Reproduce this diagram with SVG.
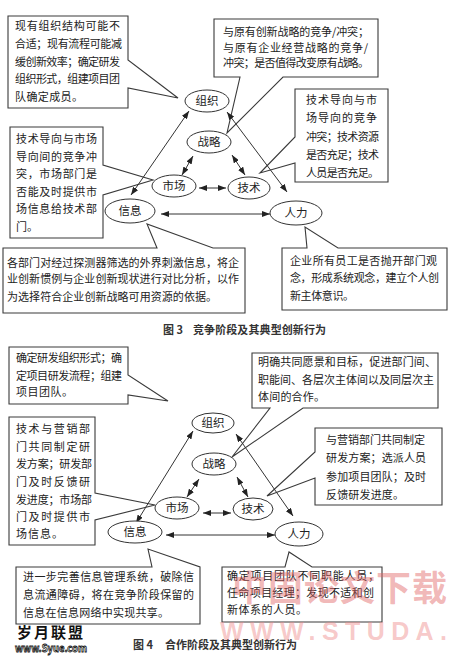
<svg xmlns="http://www.w3.org/2000/svg" width="450" height="658" viewBox="0 0 450 658">
<style>
.co path{fill:#fff;stroke:#3a3a3a;stroke-width:1.1;stroke-linejoin:miter}
.t{font-family:"Noto Sans CJK SC","Noto Sans CJK TC",sans-serif;font-size:11px;fill:#222}
.node ellipse{fill:#fff;stroke:#333;stroke-width:1}
.node text{font-family:"Noto Sans CJK SC",sans-serif;font-size:11.5px;fill:#222;text-anchor:middle}
#connectors line{stroke:#333;stroke-width:1;marker-start:url(#ah);marker-end:url(#ah)}
.cap{font-family:"Noto Sans CJK SC",sans-serif;font-size:11px;font-weight:bold;fill:#333}
.wm{font-family:"Noto Sans CJK SC",sans-serif;font-weight:bold}
</style>
<defs>
<marker id="ah" viewBox="0 0 8 6" refX="8" refY="3" markerWidth="8" markerHeight="6" markerUnits="userSpaceOnUse" orient="auto-start-reverse">
<path d="M0,0 L8,3 L0,6 z" fill="#222"/>
</marker>
</defs>
<rect width="450" height="658" fill="#fff"/>

<!-- Figure 3 callouts -->
<g id="c3-org" class="co">
<path d="M8,16 H128 V60 L178,98 L128,88 V108 H8 Z"/>
<text class="t" x="15" y="30" textLength="105" lengthAdjust="spacing">现有组织结构可能不</text>
<text class="t" x="15" y="48" textLength="107" lengthAdjust="spacing">合适；现有流程可能减</text>
<text class="t" x="15" y="66" textLength="105" lengthAdjust="spacing">缓创新效率；确定研发</text>
<text class="t" x="15" y="83" textLength="105" lengthAdjust="spacing">组织形式，组建项目团</text>
<text class="t" x="15" y="101" textLength="68" lengthAdjust="spacing">队确定成员。</text>
</g>
<g id="c3-str" class="co">
<path d="M214,19 H378 V77 H283 L227,133 L240,77 H214 Z"/>
<text class="t" x="223" y="36" textLength="146" lengthAdjust="spacing">与原有创新战略的竞争/冲突；</text>
<text class="t" x="223" y="52" textLength="145" lengthAdjust="spacing">与原有企业经营战略的竞争/</text>
<text class="t" x="223" y="67" textLength="146" lengthAdjust="spacing">冲突；是否值得改变原有战略。</text>
</g>
<g id="c3-tech" class="co">
<path d="M295,89 H388 V182 H295 V163 L260,173 L295,137 Z"/>
<text class="t" x="306" y="104" textLength="71" lengthAdjust="spacing">技术导向与市</text>
<text class="t" x="306" y="122" textLength="71" lengthAdjust="spacing">场导向的竞争</text>
<text class="t" x="306" y="141" textLength="73" lengthAdjust="spacing">冲突；技术资源</text>
<text class="t" x="306" y="159" textLength="73" lengthAdjust="spacing">是否充足；技术</text>
<text class="t" x="306" y="177" textLength="73" lengthAdjust="spacing">人员是否充足。</text>
</g>
<g id="c3-mkt" class="co">
<path d="M10,127 H103 V165 L153,180 L103,195 V238 H10 Z"/>
<text class="t" x="16" y="143" textLength="81" lengthAdjust="spacing">技术导向与市场</text>
<text class="t" x="16" y="161" textLength="81" lengthAdjust="spacing">导向间的竞争冲</text>
<text class="t" x="16" y="178" textLength="81" lengthAdjust="spacing">突，市场部门是</text>
<text class="t" x="16" y="196" textLength="81" lengthAdjust="spacing">否能及时提供市</text>
<text class="t" x="16" y="213" textLength="81" lengthAdjust="spacing">场信息给技术部</text>
<text class="t" x="16" y="231">门。</text>
</g>
<g id="c3-info" class="co">
<path d="M3,248 H157 L147,224 L213,248 H245 V313 H3 Z"/>
<text class="t" x="7" y="267" textLength="232" lengthAdjust="spacing">各部门对经过探测器筛选的外界刺激信息，将企</text>
<text class="t" x="7" y="283" textLength="232" lengthAdjust="spacing">业创新惯例与企业创新现状进行对比分析，以作</text>
<text class="t" x="7" y="301" textLength="210" lengthAdjust="spacing">为选择符合企业创新战略可用资源的依据。</text>
</g>
<g id="c3-hr" class="co">
<path d="M282,248 H307 L305,227 L338,248 H447 V310 H282 Z"/>
<text class="t" x="290" y="265" textLength="147" lengthAdjust="spacing">企业所有员工是否抛开部门观</text>
<text class="t" x="290" y="282" textLength="149" lengthAdjust="spacing">念，形成系统观念，建立个人创</text>
<text class="t" x="290" y="300" textLength="64" lengthAdjust="spacing">新主体意识。</text>
</g>

<!-- Figure 4 callouts -->
<g id="c4-org" class="co">
<path d="M9,347 H128 V375 L168,401 L128,395 V404 H9 Z"/>
<text class="t" x="16" y="362" textLength="106" lengthAdjust="spacing">确定研发组织形式；确</text>
<text class="t" x="16" y="380" textLength="106" lengthAdjust="spacing">定项目研发流程；组建</text>
<text class="t" x="16" y="396" textLength="57" lengthAdjust="spacing">项目团队。</text>
</g>
<g id="c4-str" class="co">
<path d="M252,353 H438 V408 H303 L232,457 L270,408 H252 Z"/>
<text class="t" x="258" y="366" textLength="178" lengthAdjust="spacing">明确共同愿景和目标，促进部门间、</text>
<text class="t" x="258" y="384" textLength="176" lengthAdjust="spacing">职能间、各层次主体间以及同层次主</text>
<text class="t" x="258" y="401" textLength="67" lengthAdjust="spacing">体间的合作。</text>
</g>
<g id="c4-tech" class="co">
<path d="M315,428 H442 V505 H315 V478 L267,496 L315,452 Z"/>
<text class="t" x="326" y="444" textLength="99" lengthAdjust="spacing">与营销部门共同制定</text>
<text class="t" x="326" y="462" textLength="100" lengthAdjust="spacing">研发方案；选派人员</text>
<text class="t" x="326" y="481" textLength="100" lengthAdjust="spacing">参加项目团队；及时</text>
<text class="t" x="326" y="499" textLength="78" lengthAdjust="spacing">反馈研发进度。</text>
</g>
<g id="c4-mkt" class="co">
<path d="M9,417 H95 V493 L155,505 L95,520 V545 H9 Z"/>
<text class="t" x="16" y="433" textLength="74" lengthAdjust="spacing">技术与营销部</text>
<text class="t" x="16" y="451" textLength="74" lengthAdjust="spacing">门共同制定研</text>
<text class="t" x="16" y="468" textLength="76" lengthAdjust="spacing">发方案；研发部</text>
<text class="t" x="16" y="486" textLength="74" lengthAdjust="spacing">门及时反馈研</text>
<text class="t" x="16" y="504" textLength="76" lengthAdjust="spacing">发进度；市场部</text>
<text class="t" x="16" y="521" textLength="74" lengthAdjust="spacing">门及时提供市</text>
<text class="t" x="16" y="538" textLength="47" lengthAdjust="spacing">场信息。</text>
</g>
<g id="c4-info" class="co">
<path d="M16,567 H152 L148,549 L200,567 V624 H16 Z"/>
<text class="t" x="23" y="581" textLength="171" lengthAdjust="spacing">进一步完善信息管理系统，破除信</text>
<text class="t" x="23" y="599" textLength="171" lengthAdjust="spacing">息流通障碍，将在竞争阶段保留的</text>
<text class="t" x="23" y="617" textLength="146" lengthAdjust="spacing">信息在信息网络中实现共享。</text>
</g>
<g id="c4-hr" class="co">
<path d="M222,567 H285 L289,552 L312,567 H382 V622 H222 Z"/>
<text class="t" x="227" y="580" textLength="152" lengthAdjust="spacing">确定项目团队不同职能人员；</text>
<text class="t" x="227" y="597" textLength="147" lengthAdjust="spacing">任命项目经理；发现不适和创</text>
<text class="t" x="227" y="614" textLength="80" lengthAdjust="spacing">新体系的人员。</text>
</g>

<!-- connectors -->
<g id="connectors">
<line x1="131" y1="195" x2="189" y2="111"/>
<line x1="227" y1="112" x2="287" y2="192"/>
<line x1="193" y1="156" x2="182" y2="175"/>
<line x1="232" y1="155" x2="245" y2="175"/>
<line x1="199" y1="188" x2="226" y2="188"/>
<line x1="161" y1="214" x2="270" y2="214"/>
<line x1="136" y1="523" x2="193" y2="431"/>
<line x1="236" y1="434" x2="293" y2="516"/>
<line x1="199" y1="479" x2="187" y2="497"/>
<line x1="237" y1="477" x2="248" y2="497"/>
<line x1="203" y1="513" x2="231" y2="513"/>
<line x1="166" y1="535" x2="275" y2="535"/>
</g>

<!-- Figure 3 nodes -->
<g id="n3-org" class="node"><ellipse cx="207" cy="101" rx="22" ry="11"/><text x="207" y="105">组织</text></g>
<g id="n3-str" class="node"><ellipse cx="209" cy="142" rx="22" ry="11"/><text x="209" y="146">战略</text></g>
<g id="n3-mkt" class="node"><ellipse cx="174" cy="186" rx="22" ry="11"/><text x="174" y="190">市场</text></g>
<g id="n3-tech" class="node"><ellipse cx="249" cy="188" rx="21" ry="11"/><text x="249" y="192">技术</text></g>
<g id="n3-info" class="node"><ellipse cx="130" cy="211" rx="25" ry="12"/><text x="130" y="215">信息</text></g>
<g id="n3-hr" class="node"><ellipse cx="296" cy="213" rx="26" ry="12"/><text x="296" y="217">人力</text></g>

<!-- Figure 4 nodes -->
<g id="n4-org" class="node"><ellipse cx="213" cy="423" rx="21" ry="10"/><text x="213" y="427">组织</text></g>
<g id="n4-str" class="node"><ellipse cx="214" cy="464" rx="22" ry="11"/><text x="214" y="468">战略</text></g>
<g id="n4-mkt" class="node"><ellipse cx="177" cy="508" rx="22" ry="11"/><text x="177" y="512">市场</text></g>
<g id="n4-tech" class="node"><ellipse cx="253" cy="509" rx="20" ry="11"/><text x="253" y="513">技术</text></g>
<g id="n4-info" class="node"><ellipse cx="135" cy="532" rx="27" ry="11"/><text x="135" y="536">信息</text></g>
<g id="n4-hr" class="node"><ellipse cx="299" cy="534" rx="24" ry="12"/><text x="299" y="538">人力</text></g>

<!-- captions -->
<text class="cap" x="163" y="334">图 3</text>
<text class="cap" x="193" y="334" textLength="133" lengthAdjust="spacing">竞争阶段及其典型创新行为</text>
<text class="cap" x="133" y="649">图 4</text>
<text class="cap" x="165" y="649" textLength="132" lengthAdjust="spacing">合作阶段及其典型创新行为</text>

<!-- watermarks -->
<text class="wm" x="17" y="638" font-size="15" fill="#111" textLength="66" lengthAdjust="spacing">岁月联盟</text>
<text class="wm" x="15" y="652" font-size="10.5" fill="#fff" stroke="#111" stroke-width="0.8" font-family="DejaVu Sans" textLength="72" lengthAdjust="spacingAndGlyphs">www.Syue.com</text>
<text class="wm" x="232" y="601" font-size="35" fill="#e06060" fill-opacity="0.45" textLength="215" lengthAdjust="spacing">中国论文下载</text>
<text x="220" y="640" font-family="Liberation Sans" font-weight="bold" font-size="25" fill="#e88" fill-opacity="0.45" textLength="227" lengthAdjust="spacing">WWW.STUDA.</text>
</svg>
